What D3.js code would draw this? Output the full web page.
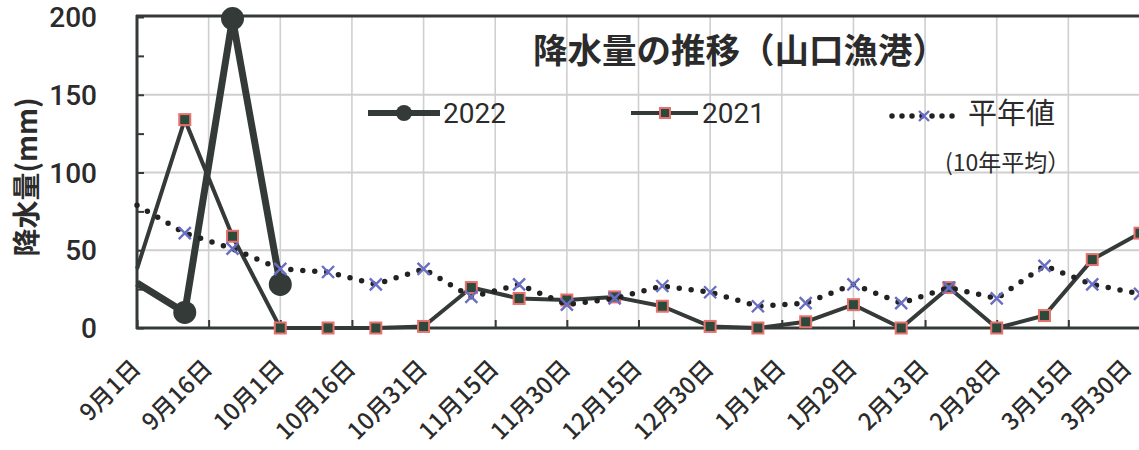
<!DOCTYPE html>
<html><head><meta charset="utf-8">
<script src="https://cdn.jsdelivr.net/npm/d3@7"></script>
<style>
html,body{margin:0;padding:0;background:#fff;}
svg{display:block;}
</style></head>
<body>
<svg id="chart" width="1139" height="450"></svg>
<script>
// ---- data ----
const title = "降水量の推移（山口漁港）";
const yTitle = "降水量(mm)";
const tickLabels = ["9月1日","9月16日","10月1日","10月16日","10月31日","11月15日","11月30日","12月15日","12月30日","1月14日","1月29日","2月13日","2月28日","3月15日","3月30日"];
const yTicks = [0, 50, 100, 150, 200];
const seriesNames = ["2022", "2021", "平年値"];
const avgNote = "(10年平均）";
// 10-day (旬) rainfall, starting 9月1日
const rain2022 = [29, 10, 199, 28];
const rain2021 = [38, 134, 59, 0, 0, 0, 1, 26, 19, 18, 20, 14, 1, 0, 4, 15, 0, 26, 0, 8, 44, 61];
const rainAvg  = [79, 61, 51, 38, 36, 28, 38, 20, 28, 15, 19, 27, 23, 14, 16, 28, 16, 26, 19, 40, 28, 22];

// ---- helpers ----
const start = new Date(Date.UTC(2021, 8, 1));
const periodDate = i => d3.utcDay.offset(start, 10 * i);
const labelDate = s => {
  const m = +s.split("月")[0], d = +s.split("月")[1].replace("日", "");
  return new Date(Date.UTC(m >= 9 ? 2021 : 2022, m - 1, d));
};

const svg = d3.select("#chart");
const L = 137, R = 1140, T = 17, B = 328;
const x = d3.scaleUtc().domain([labelDate(tickLabels[0]), labelDate(tickLabels[tickLabels.length - 1])]).range([L, R]);
const y = d3.scaleLinear().domain([0, 200]).range([B, T]);

const dark = "#343a37";
const grid = "#cfcfcf";
const jp = "'Noto Sans CJK JP','Noto Sans',sans-serif";
const num = "Roboto,'Open Sans',sans-serif";

svg.append("rect").attr("width", 1139).attr("height", 450).attr("fill", "#fff");

// gridlines
svg.append("g").selectAll("line").data(tickLabels.slice(1)).join("line")
  .attr("x1", d => x(labelDate(d))).attr("x2", d => x(labelDate(d)))
  .attr("y1", T).attr("y2", B).attr("stroke", grid).attr("stroke-width", 1.6);
svg.append("g").selectAll("line").data(yTicks.slice(1, -1)).join("line")
  .attr("x1", L).attr("x2", R).attr("y1", d => y(d)).attr("y2", d => y(d))
  .attr("stroke", grid).attr("stroke-width", 2);

// y axis (inner ticks every 25)
const yAxis = d3.axisRight(y).tickValues(d3.range(0, 201, 25)).tickSize(7).tickFormat("");
const gy = svg.append("g").attr("transform", `translate(${L},0)`).call(yAxis);
gy.select(".domain").remove();
gy.selectAll("line").attr("stroke", dark).attr("stroke-width", 2);

// x axis inner ticks
const xAxis = d3.axisTop(x).tickValues(tickLabels.map(labelDate)).tickSize(8).tickFormat("");
const gx = svg.append("g").attr("transform", `translate(0,${B})`).call(xAxis);
gx.select(".domain").remove();
gx.selectAll("line").attr("stroke", dark).attr("stroke-width", 2);

// frame
svg.append("line").attr("x1", L - 1).attr("x2", 1139).attr("y1", T - 1).attr("y2", T - 1).attr("stroke", dark).attr("stroke-width", 3);
svg.append("line").attr("x1", L).attr("x2", L).attr("y1", T - 2).attr("y2", B + 1).attr("stroke", dark).attr("stroke-width", 3);
svg.append("line").attr("x1", L - 1).attr("x2", 1139).attr("y1", B).attr("y2", B).attr("stroke", dark).attr("stroke-width", 3);

// y tick labels
svg.append("g").selectAll("text").data(yTicks).join("text")
  .attr("x", 97).attr("y", d => y(d)).attr("dy", "0.36em")
  .attr("text-anchor", "end").attr("font-family", num).attr("font-weight", 500)
  .attr("font-size", 28).attr("fill", "#2b2b2b").text(d => d);

// y title
svg.append("text").attr("transform", "translate(37,177) rotate(-90)")
  .attr("text-anchor", "middle").attr("font-family", jp).attr("font-weight", 700)
  .attr("font-size", 28).attr("fill", "#2b2b2b").text(yTitle);

// x labels (rotated -45°, end anchored just right of the tick)
svg.append("g").selectAll("text").data(tickLabels).join("text")
  .attr("transform", d => `translate(${Math.min(x(labelDate(d)) + 5, 1133)},370) rotate(-45)`)
  .attr("text-anchor", "end").attr("font-family", jp).attr("font-weight", 500)
  .attr("font-size", 23.5).attr("fill", "#2b2b2b").text(d => d);

// ---- series ----
const line = d3.line().x((d, i) => x(periodDate(i))).y(d => y(d));

// 2022
svg.append("path").datum(rain2022).attr("d", line).attr("fill", "none")
  .attr("stroke", dark).attr("stroke-width", 7).attr("stroke-linejoin", "round");
svg.append("g").selectAll("circle").data(rain2022.map((v, i) => ({v, i})).filter(d => d.i > 0)).join("circle")
  .attr("cx", d => x(periodDate(d.i))).attr("cy", d => y(d.v)).attr("r", 11.5).attr("fill", dark);

// 2021
svg.append("path").datum(rain2021).attr("d", line).attr("fill", "none")
  .attr("stroke", dark).attr("stroke-width", 4).attr("stroke-linejoin", "round");
const sq = 11;
svg.append("g").selectAll("rect").data(rain2021.map((v, i) => ({v, i})).filter(d => d.i > 0)).join("rect")
  .attr("x", d => x(periodDate(d.i)) - sq / 2).attr("y", d => y(d.v) - sq / 2)
  .attr("width", sq).attr("height", sq).attr("fill", "#2c4a3b")
  .attr("stroke", "#e9716d").attr("stroke-width", 2);

// average
svg.append("path").datum(rainAvg).attr("d", line).attr("fill", "none")
  .attr("stroke", "#222").attr("stroke-width", 5.5).attr("stroke-linecap", "round")
  .attr("stroke-dasharray", "0 12");
const xm = (g, cx, cy, s) => g.append("path")
  .attr("d", `M${cx - s},${cy - s}L${cx + s},${cy + s}M${cx - s},${cy + s}L${cx + s},${cy - s}`)
  .attr("stroke", "#6a6ec2").attr("stroke-width", 2.4).attr("fill", "none");
const gAvg = svg.append("g");
rainAvg.forEach((v, i) => { if (i > 0) xm(gAvg, x(periodDate(i)), y(v), 6); });

// ---- title & legend ----
svg.append("text").attr("x", 740).attr("y", 63).attr("text-anchor", "middle")
  .attr("font-family", jp).attr("font-weight", 700).attr("font-size", 34.5)
  .attr("fill", "#2b2b2b").text(title);

const lg = svg.append("g");
const ly = 113;
// 2022
lg.append("line").attr("x1", 368).attr("x2", 440).attr("y1", ly).attr("y2", ly).attr("stroke", dark).attr("stroke-width", 6);
lg.append("circle").attr("cx", 404).attr("cy", ly).attr("r", 8).attr("fill", dark);
lg.append("text").attr("x", 443).attr("y", 123).attr("font-family", num).attr("font-size", 28).attr("fill", "#2b2b2b").text(seriesNames[0]);
// 2021
lg.append("line").attr("x1", 631).attr("x2", 698).attr("y1", ly).attr("y2", ly).attr("stroke", dark).attr("stroke-width", 4);
lg.append("rect").attr("x", 665 - 5).attr("y", ly - 5).attr("width", 10).attr("height", 10).attr("fill", "#2c4a3b").attr("stroke", "#e9716d").attr("stroke-width", 2);
lg.append("text").attr("x", 702).attr("y", 123).attr("font-family", num).attr("font-size", 28).attr("fill", "#2b2b2b").text(seriesNames[1]);
// 平年値
lg.append("line").attr("x1", 892).attr("x2", 956).attr("y1", ly + 3).attr("y2", ly + 3).attr("stroke", "#222").attr("stroke-width", 5.5).attr("stroke-linecap", "round").attr("stroke-dasharray", "0 10");
xm(lg, 924, ly + 3, 5);
lg.append("text").attr("x", 968).attr("y", 124).attr("font-family", jp).attr("font-size", 29).attr("fill", "#2b2b2b").text(seriesNames[2]);
lg.append("text").attr("x", 945).attr("y", 171).attr("font-family", jp).attr("font-size", 23).attr("fill", "#2b2b2b").text(avgNote);
</script>
</body></html>
